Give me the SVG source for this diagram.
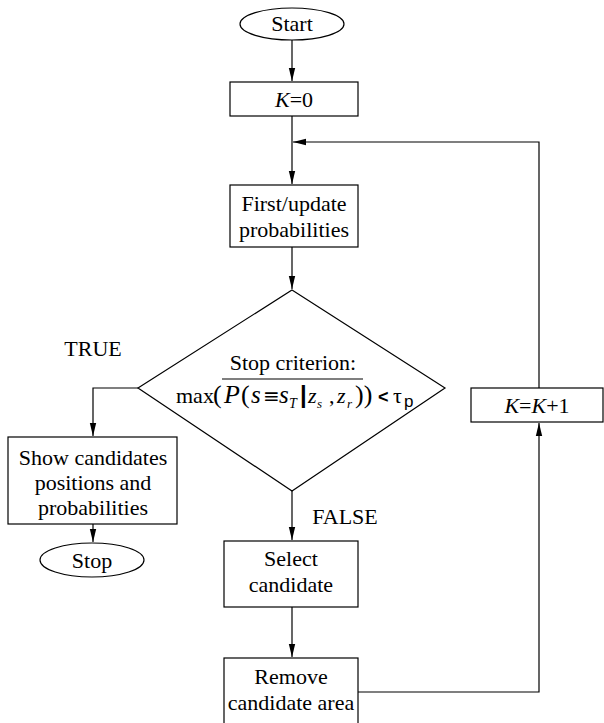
<svg xmlns="http://www.w3.org/2000/svg" width="604" height="723" viewBox="0 0 604 723" font-family="'Liberation Serif', 'Times New Roman', serif" font-size="22">
<style>
.s{fill:#fff;stroke:#000;stroke-width:1.2}
.c{fill:none;stroke:#000;stroke-width:1.2}
.m{text-anchor:middle}
.i{font-style:italic}
</style>
<defs>
<marker id="a" markerUnits="userSpaceOnUse" markerWidth="14" markerHeight="8" refX="13" refY="4" orient="auto">
<path d="M0,0.8 L13,4 L0,7.2 Z" fill="#000"/>
</marker>
</defs>
<rect width="604" height="723" fill="#fff"/>
<g id="connectors">
<path class="c" d="M292,40 V81" marker-end="url(#a)"/>
<path class="c" d="M292,116 V184" marker-end="url(#a)"/>
<path class="c" d="M539,388 V142 H293" marker-end="url(#a)"/>
<path class="c" d="M292,247 V289" marker-end="url(#a)"/>
<path class="c" d="M138,388 H93 V436" marker-end="url(#a)"/>
<path class="c" d="M93,524 V542" marker-end="url(#a)"/>
<path class="c" d="M292,491 V540" marker-end="url(#a)"/>
<path class="c" d="M292,607 V657" marker-end="url(#a)"/>
<path class="c" d="M358,692 H539 V423" marker-end="url(#a)"/>
</g>
<g id="start"><ellipse class="s" cx="292" cy="24" rx="52" ry="16"/><text class="m" x="292" y="31">Start</text></g>
<g id="k0"><rect class="s" x="230" y="82" width="128" height="34"/><text class="m" x="294" y="107"><tspan class="i">K</tspan>=0</text></g>
<g id="first"><rect class="s" x="230" y="185" width="128" height="62"/><text class="m" x="294" y="211">First/update</text><text class="m" x="294" y="237">probabilities</text></g>
<g id="decision"><polygon class="s" points="292,290 445,388 292,491 138,388"/>
<text class="m" x="293" y="370">Stop criterion:</text>
<line x1="222" y1="379" x2="363" y2="379" stroke="#000" stroke-width="1.2"/>
<text y="403"><tspan x="176">max</tspan><tspan x="213" font-size="26">(</tspan><tspan x="224" class="i" font-size="26">P</tspan><tspan x="241" font-size="26">(</tspan><tspan x="251" class="i" font-size="25">s</tspan><tspan x="263" font-size="20" font-family="'DejaVu Sans'">≡</tspan><tspan x="279" class="i" font-size="25">s</tspan><tspan x="289" y="408" class="i" font-size="14">T</tspan><tspan x="300" y="403" font-size="24" font-weight="bold" font-family="'Liberation Sans'">|</tspan><tspan x="308" class="i">z</tspan><tspan x="317" y="408" class="i" font-size="13">s</tspan><tspan x="329" y="403">,</tspan><tspan x="337" class="i">z</tspan><tspan x="347" y="408" class="i" font-size="13">r</tspan><tspan x="355" y="403" font-size="26">))</tspan><tspan x="378" font-family="'Liberation Sans'" font-weight="bold" font-size="18">&lt;</tspan><tspan x="393" font-size="22">τ</tspan><tspan x="404" y="407" font-family="'Liberation Sans'" font-size="17">p</tspan></text>
</g>
<text id="true" class="m" x="93" y="356">TRUE</text>
<g id="show"><rect class="s" x="8" y="437" width="169" height="87"/><text class="m" x="93" y="465">Show candidates</text><text class="m" x="93" y="490">positions and</text><text class="m" x="93" y="515">probabilities</text></g>
<g id="stop"><ellipse class="s" cx="92" cy="560" rx="52" ry="17"/><text class="m" x="92" y="568">Stop</text></g>
<g id="kk1"><rect class="s" x="471" y="388" width="132" height="34"/><text class="m" x="537" y="413"><tspan class="i">K</tspan>=<tspan class="i">K</tspan>+1</text></g>
<text id="false" class="m" x="345" y="524">FALSE</text>
<g id="select"><rect class="s" x="224" y="541" width="134" height="66"/><text class="m" x="291" y="566">Select</text><text class="m" x="291" y="592">candidate</text></g>
<g id="remove"><rect class="s" x="224" y="658" width="134" height="70"/><text class="m" x="291" y="684">Remove</text><text class="m" x="291" y="710">candidate area</text></g>
</svg>
